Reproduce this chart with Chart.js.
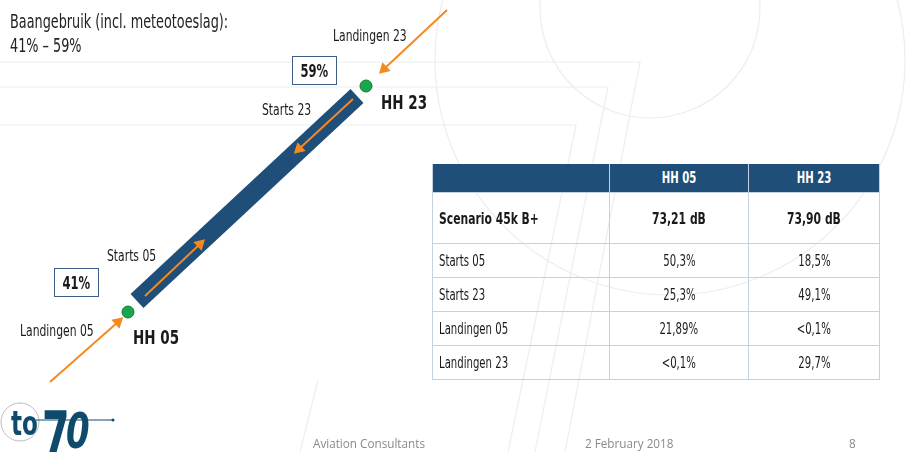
<!DOCTYPE html>
<html>
<head>
<meta charset="utf-8">
<script src="https://cdn.jsdelivr.net/npm/chart.js@4"></script>
<style>
  html, body { margin: 0; padding: 0; background: #fff; }
  #slide { position: relative; width: 915px; height: 452px; overflow: hidden;
           font-family: "DejaVu Sans Condensed", "DejaVu Sans", sans-serif; color: #1a1a1a; }
  #bg, #runwayChart { position: absolute; left: 0; top: 0; }
  .lbl { position: absolute; white-space: nowrap; line-height: 1; transform: scaleX(0.75); transform-origin: left center; }
  .box { position: absolute; border: 1.5px solid #3d5f86; background: #fff; font-weight: bold;
         display: flex; align-items: center; justify-content: center; font-size: 17px; box-sizing: border-box; }
  .box span { display: inline-block; transform: scaleX(0.76); }
  .hh { font-weight: bold; font-size: 20px; }
  #title { position: absolute; left: 10px; top: 9px; font-size: 19px; line-height: 24px; color: #222;
           white-space: nowrap; transform: scaleX(0.75); transform-origin: left top; }
  table { position: absolute; left: 432px; top: 164px; width: 448px; border-collapse: collapse; font-size: 15px; }
  th { background: #1f4e79; color: #fff; height: 26px; font-weight: bold; border: 1.5px solid #c3d1e2; border-top: none; }
  td { border: 1.5px solid #c3d1e2; height: 31px; text-align: center; white-space: nowrap; }
  td:first-child { text-align: left; padding-left: 6px; }
  th span, td span { display: inline-block; transform: scaleX(0.75); }
  td:first-child span { transform-origin: left center; }
  tr.scen td { height: 48px; font-weight: bold; font-size: 16px; }
  .foot { position: absolute; top: 434px; font-size: 13px; color: #8a8a8a; font-family: "Open Sans", sans-serif;
          transform: scaleX(0.9); transform-origin: left center; white-space: nowrap; }
</style>
</head>
<body>
<div id="slide">
  <svg id="bg" width="915" height="452">
    <g fill="none" stroke="#ededed" stroke-width="1.2">
      <circle cx="650" cy="8" r="110"/>
      <circle cx="670" cy="60" r="235"/>
      <polyline points="0,62 640,62 565,452"/>
      <polyline points="0,87 608,87 535,452"/>
      <polyline points="0,125 576,125 508,452"/>
      <line x1="318" y1="380" x2="300" y2="452"/>
    </g>
  </svg>
  <canvas id="runwayChart" width="915" height="452"></canvas>

  <div id="title">Baangebruik (incl. meteotoeslag):<br>41% – 59%</div>
  <div id="labels"></div>

  <table id="table"></table>

  <div id="logo" style="position:absolute;left:0;top:398px;width:120px;height:54px;">
    <svg width="120" height="54" style="position:absolute;left:0;top:0;">
      <circle cx="20" cy="24" r="19" fill="none" stroke="#bbb" stroke-width="1"/>
      <line x1="36" y1="22" x2="112" y2="22" stroke="#0e4a6c" stroke-width="1"/>
      <circle cx="113" cy="22" r="1.5" fill="#0e4a6c"/>
    </svg>
    <div class="lbl" style="left:11px;top:6px;font:bold 33px 'DejaVu Sans';color:#0e4a6c;transform:scaleX(0.7);">to</div>
    <div class="lbl" style="left:42px;top:0px;font:bold 64px 'DejaVu Sans';color:#0e4a6c;transform:scaleX(0.62);">7</div>
    <div class="lbl" style="left:66px;top:4px;font:italic bold 50px 'DejaVu Sans';color:#0e4a6c;transform:scaleX(0.68);">0</div>
  </div>

  <div class="foot" style="left:313px;">Aviation Consultants</div>
  <div class="foot" style="left:585px;">2 February 2018</div>
  <div class="foot" style="left:849px;">8</div>
</div>

<script>
// Runway thresholds and usage
const thresholds = ["HH 05", "HH 23"];
const runwayShare = [41, 59];
const runwayEnds = [{ x: 137, y: 301 }, { x: 357, y: 96 }];
const thresholdPoints = [{ x: 128, y: 312 }, { x: 366, y: 86 }];

// Traffic flows (start and end of each arrow)
const flowLabels = ["Starts 05", "Starts 23", "Landingen 05", "Landingen 23"];
const flowPaths = [
    [{ x: 145, y: 296 }, { x: 200, y: 244 }],
    [{ x: 353, y: 99 }, { x: 299, y: 149 }],
    [{ x: 50, y: 382 }, { x: 118, y: 322 }],
    [{ x: 447, y: 10 }, { x: 384, y: 69 }],
];

// Table data
const tableColumns = ["HH 05", "HH 23"];
const scenarioLabel = "Scenario 45k B+";
const scenarioDb = ["73,21 dB", "73,90 dB"];
const shareHH05 = ["50,3%", "25,3%", "21,89%", "<0,1%"];
const shareHH23 = ["18,5%", "49,1%", "<0,1%", "29,7%"];

const ORANGE = "#f5891f";
const RUNWAY = "#1f4e79";

// Arrow head rotation from the direction of a path
const headRotation = (path) => {
    const dx = path[1].x - path[0].x;
    const dy = path[1].y - path[0].y;
    return Math.atan2(dx, -dy) * 180 / Math.PI;
};

const flowDatasets = flowPaths.map((path, i) => ({
    label: flowLabels[i],
    data: path,
    showLine: true,
    borderColor: ORANGE,
    backgroundColor: ORANGE,
    borderWidth: 2,
    pointStyle: "triangle",
    pointRadius: [0, 5],
    pointRotation: [0, headRotation(path)],
    order: 1,
}));

new Chart(document.getElementById("runwayChart"), {
    type: "scatter",
    data: {
        datasets: [
            {
                label: "Drempels",
                data: thresholdPoints,
                pointRadius: 6,
                backgroundColor: "#17a84e",
                borderColor: "#0d7a37",
                borderWidth: 1,
                order: 0,
            },
            ...flowDatasets,
            {
                label: "Baan 05-23",
                data: runwayEnds,
                showLine: true,
                borderColor: RUNWAY,
                borderWidth: 19,
                borderCapStyle: "butt",
                pointRadius: 0,
                order: 3,
            },
        ],
    },
    options: {
        responsive: false,
        animation: false,
        layout: { padding: 0, autoPadding: false },
        plugins: { legend: { display: false }, tooltip: { enabled: false } },
        scales: {
            x: { type: "linear", min: 0, max: 915, display: false },
            y: { type: "linear", min: 0, max: 452, reverse: true, display: false },
        },
    },
});

// Text labels around the runway
const labelLayout = [
    { text: flowLabels[0], left: 107, top: 248, size: 16 },
    { text: flowLabels[1], left: 262, top: 102, size: 16 },
    { text: flowLabels[2], left: 20, top: 323, size: 16 },
    { text: flowLabels[3], left: 333, top: 28, size: 16 },
    { text: thresholds[0], left: 133, top: 327, cls: "hh" },
    { text: thresholds[1], left: 381, top: 92, cls: "hh" },
];
const labels = document.getElementById("labels");
labelLayout.forEach(l => {
    const d = document.createElement("div");
    d.className = "lbl" + (l.cls ? " " + l.cls : "");
    d.style.left = l.left + "px";
    d.style.top = l.top + "px";
    if (l.size) d.style.fontSize = l.size + "px";
    d.textContent = l.text;
    labels.appendChild(d);
});
const boxLayout = [{ left: 54, top: 268 }, { left: 292, top: 56 }];
runwayShare.forEach((v, i) => {
    const b = document.createElement("div");
    b.className = "box";
    b.style.left = boxLayout[i].left + "px";
    b.style.top = boxLayout[i].top + "px";
    b.style.width = "45px";
    b.style.height = "29px";
    b.innerHTML = `<span>${v}%</span>`;
    labels.appendChild(b);
});

// Build the table
const esc = (s) => s.replace("<", "&lt;");
const table = document.getElementById("table");
let html = `<tr><th style="width:174px"></th><th style="width:136px"><span>${tableColumns[0]}</span></th><th><span>${tableColumns[1]}</span></th></tr>`;
html += `<tr class="scen"><td><span>${scenarioLabel}</span></td><td><span>${scenarioDb[0]}</span></td><td><span>${scenarioDb[1]}</span></td></tr>`;
flowLabels.forEach((name, i) => {
    html += `<tr><td><span>${name}</span></td><td><span>${esc(shareHH05[i])}</span></td><td><span>${esc(shareHH23[i])}</span></td></tr>`;
});
table.innerHTML = html;
</script>
</body>
</html>
